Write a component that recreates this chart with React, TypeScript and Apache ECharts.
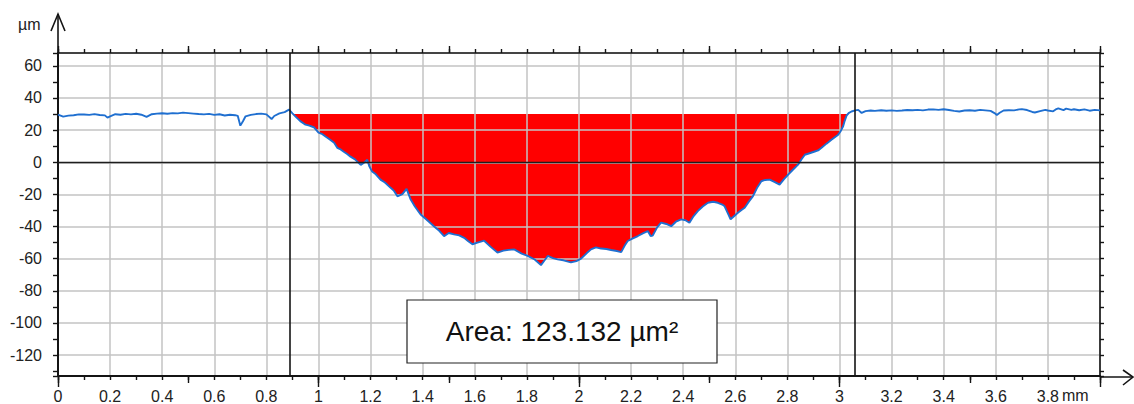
import { useEffect, useRef } from 'react';
import * as echarts from 'echarts';

// Profile (mm, µm)
const leftProfile: [number, number][] = [
  [0.0, 29.6], [0.02, 28.4], [0.04, 29.0], [0.06, 29.3], [0.08, 29.8], [0.1, 29.7], [0.12, 29.5],
  [0.14, 30.0], [0.16, 29.4], [0.18, 29.2], [0.19, 27.8], [0.2, 28.6], [0.22, 29.9], [0.24, 29.6],
  [0.26, 30.1], [0.28, 29.8], [0.3, 30.2], [0.32, 29.6], [0.34, 28.3], [0.36, 29.9], [0.38, 30.3],
  [0.4, 30.5], [0.42, 30.2], [0.44, 30.6], [0.46, 30.4], [0.48, 30.9], [0.5, 30.6], [0.52, 30.3],
  [0.54, 30.0], [0.56, 29.8], [0.58, 30.1], [0.6, 29.5], [0.62, 29.9], [0.64, 29.1], [0.66, 29.6],
  [0.68, 29.3], [0.69, 28.9], [0.7, 22.8], [0.71, 25.5], [0.72, 28.6], [0.74, 29.5], [0.76, 30.0],
  [0.78, 30.3], [0.8, 29.8], [0.82, 26.9], [0.83, 28.8], [0.85, 30.4], [0.87, 31.2], [0.887, 32.8],
];

const valleyProfile: [number, number][] = [
  [0.9, 30.4], [0.912, 28.4], [0.93, 25.6], [0.95, 23.4], [0.965, 22.8], [0.982, 21.8], [1.0, 18.4],
  [1.015, 17.5], [1.027, 16.0], [1.046, 13.8], [1.06, 12.1], [1.072, 9.0], [1.085, 8.0], [1.097, 6.6],
  [1.11, 5.2], [1.123, 3.5], [1.14, 1.8], [1.162, -1.6], [1.175, -0.2], [1.187, 1.6], [1.195, -2.5],
  [1.206, -5.8], [1.22, -7.5], [1.238, -10.8], [1.255, -12.6], [1.277, -15.9], [1.29, -17.8],
  [1.303, -21.2], [1.322, -19.8], [1.338, -16.6], [1.354, -23.2], [1.37, -27.5], [1.392, -32.5],
  [1.41, -35.0], [1.425, -37.2], [1.443, -39.8], [1.46, -42.1], [1.482, -46.0], [1.5, -44.0],
  [1.52, -44.9], [1.54, -45.5], [1.559, -47.0], [1.575, -49.2], [1.591, -51.0], [1.61, -50.0],
  [1.636, -48.8], [1.66, -52.5], [1.687, -56.2], [1.71, -55.0], [1.73, -54.5], [1.751, -54.2],
  [1.78, -56.8], [1.803, -58.2], [1.83, -60.5], [1.854, -64.0], [1.868, -61.0], [1.88, -58.3],
  [1.9, -59.6], [1.918, -60.4], [1.94, -61.0], [1.969, -62.3], [1.99, -61.5], [2.008, -60.0],
  [2.03, -56.5], [2.046, -54.2], [2.065, -53.0], [2.085, -53.7], [2.105, -54.0], [2.123, -54.6],
  [2.145, -55.2], [2.162, -55.9], [2.175, -52.0], [2.187, -49.0], [2.205, -47.5], [2.226, -45.9],
  [2.245, -44.2], [2.264, -42.8], [2.275, -45.9], [2.283, -45.6], [2.3, -40.5], [2.315, -37.6],
  [2.335, -38.4], [2.354, -39.8], [2.372, -37.0], [2.392, -35.5], [2.41, -36.2], [2.424, -37.6],
  [2.44, -33.5], [2.456, -30.4], [2.475, -27.5], [2.495, -25.2], [2.515, -24.6], [2.533, -25.2],
  [2.55, -26.3], [2.559, -27.4], [2.572, -32.0], [2.582, -35.5], [2.595, -33.6], [2.61, -31.4],
  [2.625, -29.5], [2.636, -28.3], [2.652, -24.5], [2.668, -21.1], [2.685, -15.5], [2.7, -11.8],
  [2.715, -11.0], [2.732, -10.8], [2.75, -12.2], [2.77, -13.9], [2.787, -10.5], [2.803, -7.7],
  [2.82, -4.8], [2.841, -1.5], [2.855, 2.0], [2.867, 4.7], [2.885, 5.6], [2.905, 6.7], [2.918, 7.4],
  [2.931, 9.0], [2.95, 11.6], [2.969, 14.0], [2.982, 15.6], [2.995, 17.2], [3.005, 19.5],
  [3.014, 22.4], [3.02, 25.8], [3.027, 29.0], [3.035, 30.6], [3.046, 31.6], [3.06, 32.3],
];

const rightProfile: [number, number][] = [
  [3.072, 32.6], [3.085, 30.7], [3.1, 31.8], [3.12, 32.2], [3.136, 32.0], [3.16, 32.4], [3.18, 32.1],
  [3.2, 32.3], [3.22, 32.0], [3.24, 32.2], [3.26, 32.5], [3.28, 32.4], [3.3, 32.6], [3.32, 32.3],
  [3.34, 32.8], [3.36, 32.9], [3.38, 32.6], [3.4, 33.0], [3.42, 32.5], [3.44, 32.0], [3.46, 31.6],
  [3.48, 32.2], [3.5, 32.4], [3.52, 32.1], [3.54, 32.6], [3.56, 32.3], [3.58, 32.0], [3.595, 30.6],
  [3.604, 29.4], [3.615, 30.8], [3.63, 32.2], [3.65, 32.4], [3.67, 32.3], [3.69, 32.9], [3.7, 33.1],
  [3.72, 32.5], [3.74, 31.3], [3.75, 31.0], [3.77, 31.8], [3.79, 32.6], [3.8, 32.2], [3.82, 31.7],
  [3.83, 32.9], [3.84, 33.6], [3.86, 32.5], [3.87, 33.4], [3.89, 32.6], [3.9, 33.0], [3.92, 32.4],
  [3.94, 32.9], [3.96, 32.1], [3.98, 32.6], [4.0, 32.3],
];

const cursorPositions = [0.886, 3.062];
const areaBaseline = 30;
const areaValue = '123.132';
const xRange = [0, 4];
const yRange = [-133, 68];
const xLabelStep = 0.2;
const yLabelStep = 20;
const yTickStep = 10;
const xUnit = 'mm';
const yUnit = 'µm';

const FONT = '"Liberation Sans", Arial, sans-serif';
const BLACK = '#141414';
const GRID = 'rgba(195,195,195,0.75)';
const LABEL = '#222222';

export default function App() {
  const ref = useRef<HTMLDivElement>(null);
  useEffect(() => {
    const chart = echarts.init(ref.current!, undefined, { renderer: 'svg' });
    const profile = [...leftProfile, ...valleyProfile, ...rightProfile];
    const fill = profile
      .filter(([x]) => x >= cursorPositions[0] && x <= cursorPositions[1])
      .map(([x, y]) => [x, Math.min(y, areaBaseline)]);

    const hiddenX = (position: string, interval: number, length: number, line: boolean) => ({
      type: 'value',
      position,
      min: xRange[0],
      max: xRange[1],
      interval,
      z: 2,
      axisLine: { show: line, onZero: false, lineStyle: { color: BLACK, width: 1.6 } },
      axisTick: { show: true, length, lineStyle: { color: BLACK, width: 1.4 } },
      axisLabel: { show: false },
      splitLine: { show: false },
    });

    const option: any = {
      animation: false,
      backgroundColor: '#ffffff',
      grid: { left: 58, right: 34, top: 53, bottom: 27, containLabel: false },
      xAxis: [
        {
          type: 'value',
          position: 'bottom',
          min: xRange[0],
          max: xRange[1],
          interval: xLabelStep,
          z: 2,
          axisLine: { show: true, onZero: false, lineStyle: { color: BLACK, width: 2 } },
          axisTick: { show: true, length: 4, lineStyle: { color: BLACK, width: 1.4 } },
          minorTick: { show: true, splitNumber: 2, length: 4, lineStyle: { color: BLACK, width: 1.4 } },
          splitLine: { show: true, lineStyle: { color: GRID, width: 2 } },
          axisLabel: {
            margin: 12,
            fontSize: 16,
            fontFamily: FONT,
            color: LABEL,
            formatter: (v: number) => (v > 3.9 ? '' : String(Math.round(v * 10) / 10)),
          },
        },
        hiddenX('bottom', 0.5, 7, false),
        hiddenX('bottom', 1, 11, false),
        hiddenX('top', 0.1, 4, true),
        hiddenX('top', 0.5, 7, false),
      ],
      yAxis: [
        {
          type: 'value',
          position: 'left',
          min: yRange[0],
          max: yRange[1],
          splitNumber: 20,
          minInterval: yTickStep,
          maxInterval: yTickStep,
          z: 2,
          axisLine: { show: true, onZero: false, lineStyle: { color: BLACK, width: 2 } },
          axisTick: { show: true, length: 5, lineStyle: { color: BLACK, width: 1.4 } },
          splitLine: { show: false },
          axisLabel: {
            margin: 16,
            fontSize: 16,
            fontFamily: FONT,
            color: LABEL,
            formatter: (v: number) => (Math.round(v) === v && v % yLabelStep === 0 ? String(v) : ''),
          },
        },
        {
          type: 'value',
          position: 'left',
          min: yRange[0],
          max: yRange[1],
          splitNumber: 10,
          minInterval: yLabelStep,
          maxInterval: yLabelStep,
          z: 2,
          axisLine: { show: false, onZero: false },
          axisTick: { show: false },
          axisLabel: { show: false },
          splitLine: { show: true, lineStyle: { color: GRID, width: 2 } },
        },
        {
          type: 'value',
          position: 'right',
          min: yRange[0],
          max: yRange[1],
          splitNumber: 20,
          minInterval: yTickStep,
          maxInterval: yTickStep,
          z: 2,
          axisLine: { show: true, onZero: false, lineStyle: { color: BLACK, width: 1.6 } },
          axisTick: { show: true, length: 4, lineStyle: { color: BLACK, width: 1.4 } },
          axisLabel: { show: false },
          splitLine: { show: false },
        },
      ],
      series: [
        {
          name: 'area',
          type: 'line',
          xAxisIndex: 0,
          yAxisIndex: 0,
          data: fill,
          symbol: 'none',
          silent: true,
          z: 1,
          lineStyle: { width: 0, opacity: 0 },
          areaStyle: { color: '#ff0000', opacity: 1, origin: areaBaseline },
        },
        {
          name: 'profile',
          type: 'line',
          xAxisIndex: 0,
          yAxisIndex: 0,
          data: profile,
          symbol: 'none',
          silent: true,
          z: 3,
          lineStyle: { color: '#1f6fd0', width: 1.9 },
          markLine: {
            silent: true,
            symbol: ['none', 'none'],
            label: { show: false },
            lineStyle: { color: BLACK, width: 1.6, type: 'solid' },
            data: [
              { xAxis: cursorPositions[0] },
              { xAxis: cursorPositions[1] },
              { yAxis: 0, lineStyle: { color: '#1e1e1e', width: 1.4, type: 'solid' } },
            ],
          },
        },
      ],
      graphic: [
        {
          type: 'text',
          left: 18,
          top: 16,
          style: { text: yUnit, font: `16px ${FONT}`, fill: LABEL },
        },
        {
          type: 'text',
          x: 1062,
          y: 395,
          style: { text: xUnit, font: `16px ${FONT}`, fill: LABEL, verticalAlign: 'middle' },
        },
        {
          type: 'polyline',
          shape: { points: [[58, 53], [58, 14]] },
          style: { stroke: BLACK, lineWidth: 1.6, fill: 'none' },
        },
        {
          type: 'polyline',
          shape: { points: [[51, 31], [58, 14], [65, 31]] },
          style: { stroke: BLACK, lineWidth: 1.6, fill: 'none' },
        },
        {
          type: 'polyline',
          shape: { points: [[1100, 377], [1133, 377]] },
          style: { stroke: BLACK, lineWidth: 1.6, fill: 'none' },
        },
        {
          type: 'polyline',
          shape: { points: [[1123, 370], [1133, 377], [1123, 385]] },
          style: { stroke: BLACK, lineWidth: 1.6, fill: 'none' },
        },
        {
          type: 'rect',
          z: 10,
          shape: { x: 407, y: 300, width: 310, height: 63 },
          style: { fill: '#ffffff', stroke: '#222222', lineWidth: 1.2 },
        },
        {
          type: 'text',
          z: 11,
          x: 562,
          y: 331,
          style: {
            text: `Area: ${areaValue} µm²`,
            font: `28px ${FONT}`,
            fill: '#111111',
            align: 'center',
            verticalAlign: 'middle',
          },
        },
      ],
    };
    chart.setOption(option);
    return () => chart.dispose();
  }, []);
  return (
    <div
      ref={ref}
      style={{ position: 'fixed', left: 0, top: 0, width: 1134, height: 404, background: '#fff' }}
    />
  );
}
